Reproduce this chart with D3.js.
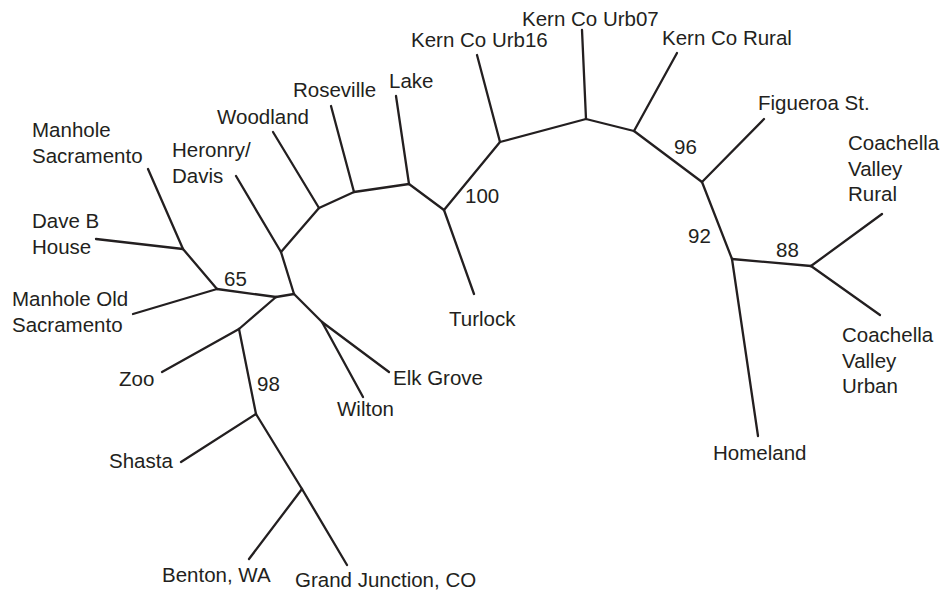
<!DOCTYPE html>
<html>
<head>
<meta charset="utf-8">
<script src="https://cdn.jsdelivr.net/npm/d3@7.9.0/dist/d3.min.js"></script>
<style>
  html, body { margin: 0; padding: 0; background: #fff; }
  svg text { font-family: "Liberation Sans", Arial, Helvetica, sans-serif; fill: #231f20; }
</style>
</head>
<body>
<svg id="chart" width="941" height="593"></svg>
<script>
// unrooted tree, node positions in layout units
const internalNodes = [
  ['A', 217, 289], ['B', 183, 249], ['C', 276, 297], ['D', 294, 294],
  ['E', 281, 252], ['F', 319, 208], ['K', 354, 192], ['L', 409, 184],
  ['M', 444, 210], ['N', 500, 142], ['O', 586, 119], ['P', 634, 131],
  ['Q', 702, 182], ['R', 732, 259], ['S', 811, 266], ['G', 239, 329],
  ['I', 256, 414], ['J', 302, 489], ['H', 322, 322]
];

const leaves = [
  ['Manhole Sacramento', 148, 169], ['Dave B House', 96, 239],
  ['Manhole Old Sacramento', 133, 314], ['Zoo', 162, 372],
  ['Shasta', 181, 462], ['Benton, WA', 249, 559],
  ['Grand Junction, CO', 347, 565], ['Elk Grove', 389, 372],
  ['Wilton', 363, 397], ['Heronry/ Davis', 236, 176],
  ['Woodland', 273, 132], ['Roseville', 331, 106], ['Lake', 396, 96],
  ['Turlock', 474, 294], ['Kern Co Urb16', 477, 55],
  ['Kern Co Urb07', 582, 30], ['Kern Co Rural', 677, 53],
  ['Figueroa St.', 764, 119], ['Homeland', 758, 436],
  ['Coachella Valley Rural', 882, 214], ['Coachella Valley Urban', 880, 315]
];

const edges = [
  ['A', 'B'], ['B', 'Manhole Sacramento'], ['B', 'Dave B House'],
  ['A', 'Manhole Old Sacramento'], ['A', 'C'], ['C', 'D'], ['C', 'G'],
  ['G', 'Zoo'], ['G', 'I'], ['I', 'Shasta'], ['I', 'J'],
  ['J', 'Benton, WA'], ['J', 'Grand Junction, CO'],
  ['D', 'E'], ['D', 'H'], ['H', 'Elk Grove'], ['H', 'Wilton'],
  ['E', 'Heronry/ Davis'], ['E', 'F'], ['F', 'Woodland'], ['F', 'K'],
  ['K', 'Roseville'], ['K', 'L'], ['L', 'Lake'], ['L', 'M'],
  ['M', 'Turlock'], ['M', 'N'], ['N', 'Kern Co Urb16'], ['N', 'O'],
  ['O', 'Kern Co Urb07'], ['O', 'P'], ['P', 'Kern Co Rural'], ['P', 'Q'],
  ['Q', 'Figueroa St.'], ['Q', 'R'], ['R', 'Homeland'], ['R', 'S'],
  ['S', 'Coachella Valley Rural'], ['S', 'Coachella Valley Urban']
];

// bootstrap support values
const supportValues = [
  ['A', 65], ['I', 98], ['M', 100], ['Q', 96], ['R', 92], ['S', 88]
];

// label lines for each leaf
const leafLabels = {
  'Manhole Sacramento': ['Manhole', 'Sacramento'],
  'Dave B House': ['Dave B', 'House'],
  'Manhole Old Sacramento': ['Manhole Old', 'Sacramento'],
  'Heronry/ Davis': ['Heronry/', 'Davis'],
  'Coachella Valley Rural': ['Coachella', 'Valley', 'Rural'],
  'Coachella Valley Urban': ['Coachella', 'Valley', 'Urban']
};

// where each label text starts (layout units)
const labelAnchors = {
  'Manhole Sacramento': [32, 137], 'Dave B House': [32, 228],
  'Manhole Old Sacramento': [12, 306], 'Heronry/ Davis': [172, 157],
  'Woodland': [217, 124], 'Roseville': [293, 97], 'Lake': [389, 88],
  'Kern Co Urb16': [411, 47], 'Kern Co Urb07': [522, 26],
  'Kern Co Rural': [662, 45], 'Figueroa St.': [758, 110],
  'Coachella Valley Rural': [848, 150], 'Coachella Valley Urban': [842, 342],
  'Homeland': [713, 460], 'Turlock': [449, 326], 'Elk Grove': [393, 385],
  'Wilton': [337, 416], 'Zoo': [119, 386], 'Shasta': [109, 468],
  'Benton, WA': [162, 582], 'Grand Junction, CO': [295, 587]
};
const supportAnchors = {
  A: [224, 286], I: [257, 391], M: [465, 203], Q: [674, 154], R: [688, 243], S: [776, 257]
};

const width = 941, height = 593;
const x = d3.scaleLinear().domain([0, 941]).range([0, width]);
const y = d3.scaleLinear().domain([0, 593]).range([0, height]);

const pos = new Map();
internalNodes.forEach(([id, nx, ny]) => pos.set(id, [nx, ny]));
leaves.forEach(([id, nx, ny]) => pos.set(id, [nx, ny]));

const svg = d3.select('#chart');

svg.append('g')
  .selectAll('line')
  .data(edges)
  .join('line')
  .attr('x1', d => x(pos.get(d[0])[0]))
  .attr('y1', d => y(pos.get(d[0])[1]))
  .attr('x2', d => x(pos.get(d[1])[0]))
  .attr('y2', d => y(pos.get(d[1])[1]))
  .attr('stroke', '#231f20')
  .attr('stroke-width', 2.3)
  .attr('stroke-linecap', 'round');

const lineGap = 25.5;
const labels = svg.append('g')
  .selectAll('text')
  .data(leaves)
  .join('text')
  .attr('font-size', 20.5)
  .attr('x', d => x(labelAnchors[d[0]][0]))
  .attr('y', d => y(labelAnchors[d[0]][1]));

labels.each(function(d) {
  const lines = leafLabels[d[0]] || [d[0]];
  const t = d3.select(this);
  lines.forEach((ln, i) => {
    t.append('tspan')
      .attr('x', x(labelAnchors[d[0]][0]))
      .attr('dy', i === 0 ? 0 : lineGap)
      .text(ln);
  });
});

svg.append('g')
  .selectAll('text')
  .data(supportValues)
  .join('text')
  .attr('font-size', 20.5)
  .attr('x', d => x(supportAnchors[d[0]][0]))
  .attr('y', d => y(supportAnchors[d[0]][1]))
  .text(d => d[1]);
</script>
</body>
</html>
